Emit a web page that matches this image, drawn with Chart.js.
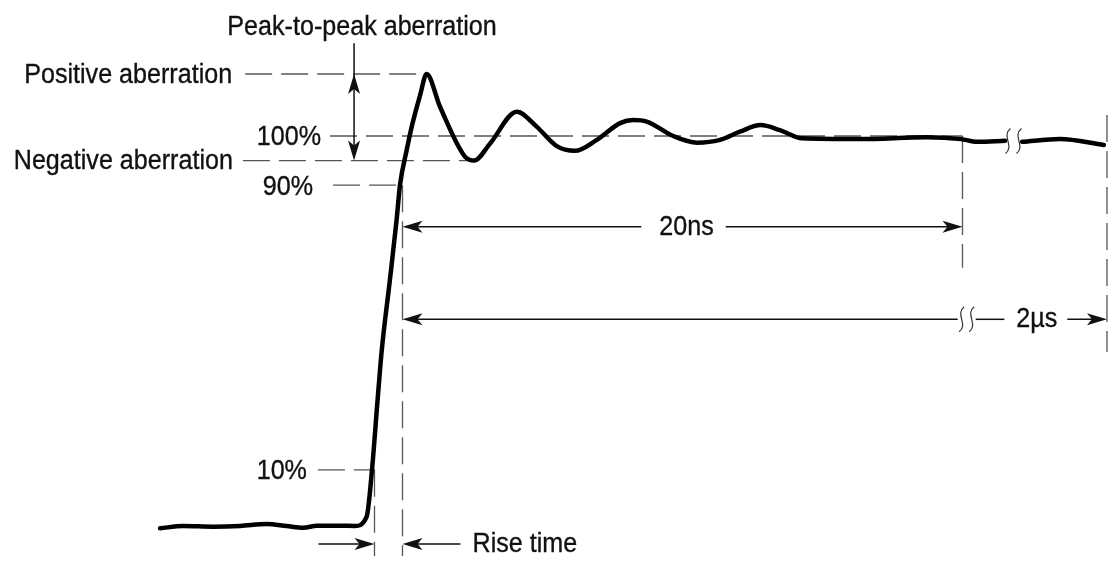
<!DOCTYPE html>
<html>
<head>
<meta charset="utf-8">
<script src="https://cdn.jsdelivr.net/npm/chart.js@4"></script>
<style>
  html, body { margin: 0; padding: 0; background: #fff; }
  #wrap { width: 1114px; height: 561px; }
</style>
</head>
<body>
<div id="wrap"><canvas id="pulse" width="1114" height="561"></canvas></div>
<script>
/* ─────────────────────────────────────────────
   Pulse response diagram
   x = time in ns (0 = 10% crossing), y = amplitude in % of final level.
   Past the break the time axis is compressed (2µs window).
───────────────────────────────────────────── */

/* ── Waveform ── */
const waveT = [-7.66, -6.83, -5.76, -4.80, -3.85, -3.14, -2.54, -2.06, -1.23, -0.70,
               -0.28, -0.09, 0.11, 0.26, 0.55, 0.79, 0.91, 1.15, 1.33, 1.63,
               1.86, 2.34, 3.23, 3.56, 4.13, 5.08, 5.79, 6.51, 7.16, 7.94,
               8.77, 9.24, 9.72, 10.67, 11.52, 12.34, 13.05, 13.79, 14.48, 15.27,
               17.34, 19.73, 20.95, 21.52, 22.52, 22.8, 23.13, 24.48, 26.05];
const waveV = [-0.59, 0, -0.18, 0, 0.51, 0, -0.44, 0.08, 0.08, 0,
               2.38, 14.36, 32.3, 45.1, 63.1, 78.5, 87.4, 96.4, 102.4, 110.5,
               115.9, 107.5, 94.7, 93.7, 98.1, 106.2, 102.4, 97.4, 96.2, 99.0,
               103.3, 104.1, 103.7, 100, 98.3, 99.0, 101.1, 102.8, 101.5, 99.4,
               99.2, 99.7, 99.2, 98.5, 98.8, null, 98.5, 99.2, 97.7];

/* ── Time marks (ns) ── */
const riseStart   = 0;      // 10% crossing
const riseEnd     = 1;      // 90% crossing
const settleEnd   = 21;     // riseEnd + 20ns
const tailEnd     = 26.16;  // end of the 2µs window
const waveBreakT  = 22.82;
const arrowBreakT = 21.15;

/* ── Reference levels (%) ── */
const levelLabels = ['100%', '90%', '10%'];
const levelValues = [100, 87.4, 14.4];

/* ── Annotation text ── */
const titleText   = 'Peak-to-peak aberration';
const posText     = 'Positive aberration';
const negText     = 'Negative aberration';
const spanText    = ['20ns', '2µs'];
const riseText    = 'Rise time';

/* derived from the trace */
const peakIdx  = waveV.indexOf(Math.max(...waveV.filter(v => v !== null)));
const posLevel = waveV[peakIdx];
const peakT    = waveT[peakIdx];
const afterPeak = waveV.map((v, i) => (i > peakIdx && v !== null ? v : Infinity));
const troughIdx = afterPeak.indexOf(Math.min(...afterPeak));
const negLevel = waveV[troughIdx];
const troughT  = waveT[troughIdx];

const [full, lvl90, lvl10] = levelValues;

/* ── Drawing helpers ── */
const FONT = '27px "Liberation Sans", Arial, sans-serif';
const SQUEEZE = 0.93;
const INK = '#111';
const DASH_INK = '#555';

function label(ctx, str, x, y, align) {
  ctx.save();
  ctx.translate(x, y);
  ctx.scale(SQUEEZE, 1);
  ctx.font = FONT;
  ctx.fillStyle = INK;
  ctx.strokeStyle = INK;
  ctx.lineWidth = 0.35;
  ctx.setLineDash([]);
  ctx.textAlign = align;
  ctx.textBaseline = 'middle';
  ctx.fillText(str, 0, 0);
  ctx.strokeText(str, 0, 0);   // a touch heavier, like the condensed original
  ctx.restore();
}

function textWidth(ctx, str) {
  ctx.save();
  ctx.font = FONT;
  const w = ctx.measureText(str).width * SQUEEZE;
  ctx.restore();
  return w;
}

function seg(ctx, x1, y1, x2, y2) {
  ctx.beginPath();
  ctx.moveTo(x1, y1);
  ctx.lineTo(x2, y2);
  ctx.stroke();
}

// filled arrowhead, tip at (x, y), pointing along (dx, dy)
function head(ctx, x, y, dx, dy) {
  const L = 20, W = 6;
  const bx = x - dx * L, by = y - dy * L;
  const nx = -dy, ny = dx;
  ctx.beginPath();
  ctx.moveTo(x, y);
  ctx.lineTo(bx + nx * W, by + ny * W);
  ctx.lineTo(x - dx * L * 0.75, y - dy * L * 0.75);
  ctx.lineTo(bx - nx * W, by - ny * W);
  ctx.closePath();
  ctx.fill();
}

function squiggle(ctx, x, y) {
  ctx.beginPath();
  ctx.moveTo(x + 2.5, y - 12.5);
  ctx.bezierCurveTo(x - 7, y - 5, x + 7, y + 5, x - 2.5, y + 12.5);
  ctx.stroke();
}

/* ── Annotation plugin ── */
const diagram = {
  id: 'diagram',
  beforeDatasetsDraw(chart) {
    const { ctx, scales: { x, y } } = chart;
    const px = v => x.getPixelForValue(v), py = v => y.getPixelForValue(v);
    ctx.save();
    ctx.strokeStyle = DASH_INK;
    ctx.lineWidth = 1.3;
    ctx.setLineDash([27, 9]);
    // level lines
    seg(ctx, px(-4.62), py(posLevel), px(peakT), py(posLevel));
    seg(ctx, px(-4.70), py(negLevel), px(troughT), py(negLevel));
    seg(ctx, px(-1.59), py(full), px(settleEnd), py(full));
    seg(ctx, px(-1.48), py(lvl90), px(riseEnd), py(lvl90));
    seg(ctx, px(-2.02), py(lvl10), px(riseStart), py(lvl10));
    // time marks
    seg(ctx, px(riseStart), py(lvl10), px(riseStart), py(-7.7));
    seg(ctx, px(riseEnd), py(lvl90), px(riseEnd), py(-7.7));
    seg(ctx, px(settleEnd), py(full), px(settleEnd), py(66.2));
    seg(ctx, px(tailEnd), py(105.4), px(tailEnd), py(44.6));
    ctx.restore();
  },
  afterDatasetsDraw(chart) {
    const { ctx, scales: { x, y } } = chart;
    const px = v => x.getPixelForValue(v), py = v => y.getPixelForValue(v);
    ctx.save();
    ctx.strokeStyle = INK;
    ctx.fillStyle = INK;
    ctx.lineWidth = 1.5;

    // peak-to-peak double arrow
    const xp = px(-0.73), topY = py(123.8);
    seg(ctx, xp, topY, xp, py(negLevel) - 6);
    head(ctx, xp, py(posLevel), 0, -1);
    head(ctx, xp, py(negLevel), 0, 1);
    label(ctx, titleText, xp + 8, topY - 16, 'center');

    // left level labels
    label(ctx, posText, px(-4.62) - 13, py(posLevel) + 2, 'right');
    label(ctx, negText, px(-4.70) - 10, py(negLevel) + 1, 'right');
    label(ctx, levelLabels[0], px(-1.59) - 9, py(full) + 2, 'right');
    label(ctx, levelLabels[1], px(-1.48) - 20, py(lvl90) + 2, 'right');
    label(ctx, levelLabels[2], px(-2.02) - 11, py(lvl10) + 2, 'right');

    // 20ns span
    ctx.lineWidth = 1.5;
    const yA = py(76.7);
    const cA = (px(riseEnd) + px(settleEnd)) / 2 + 4;
    const wA = textWidth(ctx, spanText[0]);
    seg(ctx, px(riseEnd) + 6, yA, cA - wA / 2 - 18, yA);
    seg(ctx, cA + wA / 2 + 12, yA, px(settleEnd) - 6, yA);
    head(ctx, px(riseEnd), yA, -1, 0);
    head(ctx, px(settleEnd), yA, 1, 0);
    label(ctx, spanText[0], cA, yA + 1, 'center');

    // 2µs span (broken)
    ctx.lineWidth = 1.5;
    const yB = py(53);
    const xb = px(arrowBreakT);
    const cB = (xb + px(tailEnd)) / 2;
    const wB = textWidth(ctx, spanText[1]);
    seg(ctx, px(riseEnd) + 6, yB, xb - 9, yB);
    seg(ctx, xb + 9, yB, cB - wB / 2 - 12, yB);
    seg(ctx, cB + wB / 2 + 10, yB, px(tailEnd) - 6, yB);
    head(ctx, px(riseEnd), yB, -1, 0);
    head(ctx, px(tailEnd), yB, 1, 0);
    ctx.lineWidth = 1.2;
    ctx.strokeStyle = '#333';
    squiggle(ctx, xb - 5, yB);
    squiggle(ctx, xb + 5, yB);
    label(ctx, spanText[1], cB, yB, 'center');

    // break marks on the trace
    ctx.lineWidth = 1.2;
    ctx.strokeStyle = '#333';
    const xw = px(waveBreakT), yw = py(98.7);
    squiggle(ctx, xw - 5.5, yw);
    squiggle(ctx, xw + 5.5, yw);

    // rise time
    ctx.lineWidth = 1.5;
    ctx.strokeStyle = INK;
    const yR = py(-4.6);
    seg(ctx, px(riseStart) - 56, yR, px(riseStart) - 6, yR);
    head(ctx, px(riseStart), yR, 1, 0);
    seg(ctx, px(riseEnd) + 58, yR, px(riseEnd) + 6, yR);
    head(ctx, px(riseEnd), yR, -1, 0);
    label(ctx, riseText, px(riseEnd) + 70, yR + 1, 'left');

    ctx.restore();
  }
};

/* ── Chart instance ── */
const pulseChart = new Chart(document.getElementById('pulse').getContext('2d'), {
  type: 'line',
  data: {
    datasets: [{
      data: waveT.map((t, i) => ({ x: t, y: waveV[i] })),
      borderColor: '#000',
      borderWidth: 4.5,
      borderCapStyle: 'round',
      borderJoinStyle: 'round',
      pointRadius: 0,
      cubicInterpolationMode: 'monotone',
      spanGaps: false,
      fill: false,
    }],
  },
  options: {
    responsive: false,
    animation: false,
    events: [],
    layout: { padding: 0 },
    plugins: { legend: { display: false }, tooltip: { enabled: false } },
    scales: {
      x: { type: 'linear', min: -13.375, max: 26.411, display: false },
      y: { type: 'linear', min: -8.97, max: 134.87, display: false },
    },
  },
  plugins: [diagram],
});
</script>
</body>
</html>
